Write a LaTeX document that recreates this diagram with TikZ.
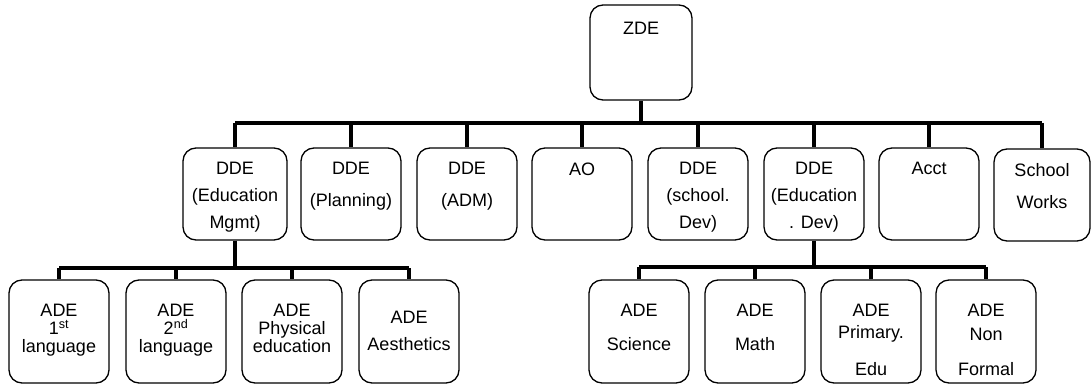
\documentclass[tikz,border=0pt]{standalone}
\usepackage{fontspec}
\setmainfont{Liberation Sans}

\begin{document}
\begin{tikzpicture}[x=1pt, y=-1pt,
    unit/.style={draw, line width=1.3pt, rounded corners=13pt, minimum width=100pt, minimum height=92pt, inner sep=0pt},
    wing/.style={unit, minimum height=103pt},
    toptext/.style={align=center, anchor=north, inner sep=0pt, font=\fontsize{18}{27}\selectfont},
    lowtext/.style={toptext, font=\fontsize{18}{18}\selectfont},
    link/.style={line width=3.2pt}]

\useasboundingbox (0,0) rectangle (1091,385);

% head
\node[unit, minimum width=102pt, minimum height=95pt] (zde) at (641,52.5) {};
\node[toptext] (zdet) at ([yshift=-18pt]zde.north) {ZDE};

% second row
\node[unit, minimum width=104pt] (dmgmt) at (235,194) {};
\node[unit] (dplan) at (351,194) {};
\node[unit] (dadm) at (467,194) {};
\node[unit] (ao) at (582,194) {};
\node[unit] (dsch) at (698,194) {};
\node[unit] (dedu) at (814,194) {};
\node[unit] (acct) at (929,194) {};
\node[unit, minimum width=96pt] (works) at (1042,195) {};

\node[toptext] (dmgmtt) at ([yshift=-15pt]dmgmt.north) {DDE\\(Education\\Mgmt)};
\node[toptext] (dplant) at ([yshift=-15pt]dplan.north) {DDE\\[5pt](Planning)};
\node[toptext] (dadmt) at ([yshift=-15pt]dadm.north) {DDE\\[5pt](ADM)};
\node[toptext] (aot) at ([yshift=-15pt]ao.north) {AO};
\node[toptext] (dscht) at ([yshift=-15pt]dsch.north) {DDE\\(school.\\Dev)};
\node[toptext] (dedut) at ([yshift=-15pt]dedu.north) {DDE\\(Education\\. Dev)};
\node[toptext] (acctt) at ([yshift=-15pt]acct.north) {Acct};
\node[toptext] (workst) at ([yshift=-15pt]works.north) {School\\[5pt]Works};

% third row, left
\node[wing] (lang1) at (59,331.5) {};
\node[wing] (lang2) at (176,331.5) {};
\node[wing] (phys) at (292,331.5) {};
\node[wing] (aest) at (409,331.5) {};

\node[lowtext] (lang1t) at ([yshift=-25pt]lang1.north) {ADE\\1\textsuperscript{st}\\language};
\node[lowtext] (lang2t) at ([yshift=-25pt]lang2.north) {ADE\\2\textsuperscript{nd}\\language};
\node[lowtext] (physt) at ([yshift=-25pt]phys.north) {ADE\\Physical\\education};
\node[lowtext] (aestt) at ([yshift=-32pt]aest.north) {ADE\\[9pt]Aesthetics};

% third row, right
\node[wing] (sci) at (639,331.5) {};
\node[wing] (math) at (755,331.5) {};
\node[wing] (prim) at (871,331.5) {};
\node[wing] (nonf) at (986,331.5) {};

\node[lowtext] (scit) at ([yshift=-25pt]sci.north) {ADE\\[16pt]Science};
\node[lowtext] (matht) at ([yshift=-25pt]math.north) {ADE\\[16pt]Math};
\node[lowtext] (primt) at ([yshift=-25pt]prim.north) {ADE\\[4pt]Primary.\\[19pt]Edu};
\node[lowtext] (nonft) at ([yshift=-25pt]nonf.north) {ADE\\[6pt]Non\\[17pt]Formal};

% buses
\coordinate (bus1) at (641,123);
\coordinate (bus2) at (235,268);
\coordinate (bus3) at (814,267);

\draw[link] (zde) -- (bus1);
\draw[link] (bus1 -| dmgmt.north) -- (bus1 -| works.north);
\foreach \n in {dmgmt,dplan,dadm,ao,dsch,dedu,acct,works} {
    \draw[link] (bus1 -| \n.north) -- (\n);
}

\draw[link] (dmgmt) -- (bus2);
\draw[link] (bus2 -| lang1.north) -- (bus2 -| aest.north);
\foreach \n in {lang1,lang2,phys,aest} {
    \draw[link] (bus2 -| \n.north) -- (\n);
}

\draw[link] (dedu) -- (bus3);
\draw[link] (bus3 -| sci.north) -- (bus3 -| nonf.north);
\foreach \n in {sci,math,prim,nonf} {
    \draw[link] (bus3 -| \n.north) -- (\n);
}

\end{tikzpicture}
\end{document}
